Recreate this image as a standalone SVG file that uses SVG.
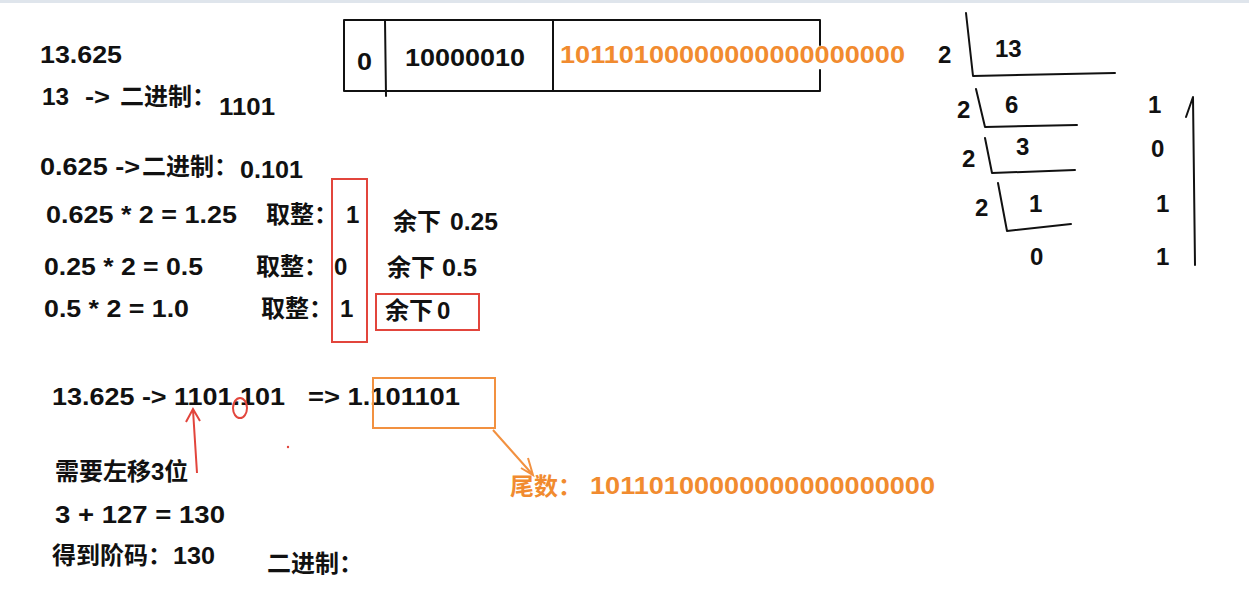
<svg xmlns="http://www.w3.org/2000/svg" width="1249" height="610" viewBox="0 0 1249 610">
<style>
text{font-family:"Liberation Sans","Noto Sans CJK SC",sans-serif;font-weight:bold;font-size:24px;fill:#111}
.cn{font-family:"Noto Sans CJK SC",sans-serif;font-weight:bold}
.o{fill:#f18b2f}
.ln{stroke:#111;stroke-width:2;fill:none;stroke-linecap:round;stroke-linejoin:round}
.red{stroke:#e2453c;stroke-width:2;fill:none}
.org{stroke:#f29140;stroke-width:2;fill:none}
</style>
<rect x="0" y="0" width="1249" height="610" fill="#ffffff"/>
<rect x="0" y="0" width="1249" height="3" fill="#dfe5ec"/>

<g id="float-layout">
<path class="ln" d="M820,45 L820,20 L344,20 L344,91 L820,91 L820,70"/>
<path class="ln" d="M385,20 L386,96 M553,20 L553,91"/>
<text x="357" y="70" textLength="15" lengthAdjust="spacingAndGlyphs">0</text>
<text x="405" y="66" textLength="120" lengthAdjust="spacingAndGlyphs">10000010</text>
<text class="o" x="560" y="63" textLength="345" lengthAdjust="spacingAndGlyphs">10110100000000000000000</text>
</g>

<g id="division">
<path class="ln" d="M966,13 L973,76 L1115,73"/>
<path class="ln" d="M976,89 L985,127 L1077,125"/>
<path class="ln" d="M985,138 L992,173 L1075,170"/>
<path class="ln" d="M998,183 L1007,231 L1071,224"/>
<path class="ln" d="M1195,265 L1193,97 L1186,117"/>
<text x="938" y="63" font-size="22">2</text>
<text x="995" y="57" font-size="22">13</text>
<text x="957" y="118" font-size="22">2</text>
<text x="1005" y="113" font-size="22">6</text>
<text x="1148" y="113" font-size="22">1</text>
<text x="962" y="167" font-size="22">2</text>
<text x="1016" y="155" font-size="22">3</text>
<text x="1151" y="157" font-size="22">0</text>
<text x="975" y="216" font-size="22">2</text>
<text x="1029" y="212" font-size="22">1</text>
<text x="1156" y="212" font-size="22">1</text>
<text x="1030" y="265" font-size="22">0</text>
<text x="1156" y="265" font-size="22">1</text>
</g>

<g id="integer-part">
<text x="40" y="63" textLength="82" lengthAdjust="spacingAndGlyphs">13.625</text>
<text x="42" y="105" textLength="27" lengthAdjust="spacingAndGlyphs">13</text>
<text x="85" y="105" textLength="25" lengthAdjust="spacingAndGlyphs">-&gt;</text>
<text class="cn" x="120" y="105" font-size="22">二进制：</text>
<text x="219" y="115" textLength="56" lengthAdjust="spacingAndGlyphs">1101</text>
</g>

<g id="fraction-part">
<text x="40" y="175" textLength="100" lengthAdjust="spacingAndGlyphs">0.625 -&gt;</text>
<text class="cn" x="142" y="175" font-size="22">二进制：</text>
<text x="240" y="178" textLength="63" lengthAdjust="spacingAndGlyphs">0.101</text>
<text x="46" y="223" textLength="191" lengthAdjust="spacingAndGlyphs">0.625 * 2 = 1.25</text>
<text class="cn" x="266" y="223" font-size="22">取整：</text>
<text x="346" y="223">1</text>
<text class="cn" x="393" y="230" font-size="25">余下</text>
<text x="450" y="230" textLength="48" lengthAdjust="spacingAndGlyphs">0.25</text>
<text x="44" y="275" textLength="159" lengthAdjust="spacingAndGlyphs">0.25 * 2 = 0.5</text>
<text class="cn" x="256" y="275" font-size="22">取整：</text>
<text x="334" y="275">0</text>
<text class="cn" x="387" y="276" font-size="25">余下</text>
<text x="442" y="276" textLength="35" lengthAdjust="spacingAndGlyphs">0.5</text>
<text x="44" y="317" textLength="145" lengthAdjust="spacingAndGlyphs">0.5 * 2 = 1.0</text>
<text class="cn" x="261" y="317" font-size="22">取整：</text>
<text x="340" y="317">1</text>
<text class="cn" x="385" y="319" font-size="25">余下</text>
<text x="437" y="319">0</text>
<rect class="red" x="332" y="179" width="35" height="163"/>
<rect class="red" x="376" y="294" width="103" height="36"/>
</g>

<g id="normalize">
<text x="52" y="405" textLength="233" lengthAdjust="spacingAndGlyphs">13.625 -&gt; 1101.101</text>
<text x="308" y="405" textLength="152" lengthAdjust="spacingAndGlyphs">=&gt; 1.101101</text>
<ellipse class="red" cx="240" cy="408" rx="7" ry="10"/>
<circle cx="288" cy="447" r="1.2" fill="#e2453c"/>
<text class="cn" x="55" y="480" font-size="24">需要左移<tspan font-family="Liberation Sans">3</tspan>位</text>
<text x="55" y="523" textLength="170" lengthAdjust="spacingAndGlyphs">3 + 127 = 130</text>
<text class="cn" x="52" y="564" font-size="24">得到阶码：</text>
<text x="173" y="564" textLength="42" lengthAdjust="spacingAndGlyphs">130</text>
<text class="cn" x="267" y="572" font-size="22">二进制：</text>
</g>

<g id="mantissa">
<rect class="org" x="373" y="378" width="122" height="50"/>
<text class="cn o" x="510" y="495" font-size="23">尾数：</text>
<text class="o" x="590" y="494" textLength="345" lengthAdjust="spacingAndGlyphs">10110100000000000000000</text>
</g>

<g id="connectors">
<path class="red" d="M197,473 L193,410 M186,422 L193,409 L200,421"/>
<path class="org" d="M493,430 L533,475 M528,458 L533,475 L521,468"/>
</g>
</svg>
